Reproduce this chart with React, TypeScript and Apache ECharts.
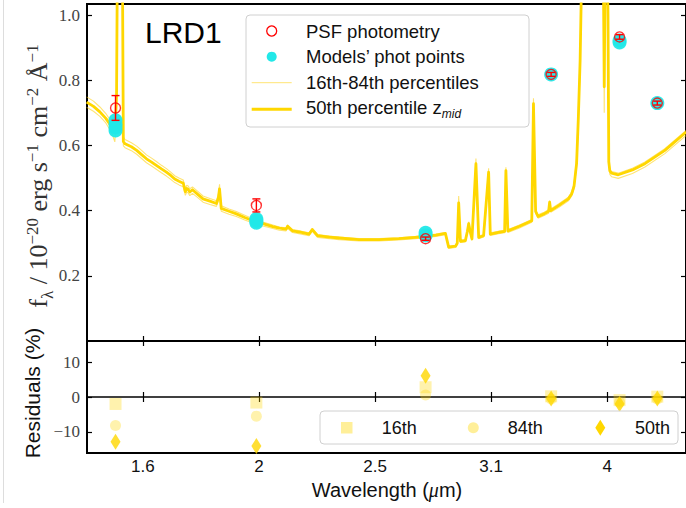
import React, { useEffect, useRef } from 'react';
import * as echarts from 'echarts';

// ---------- data ----------
const lamSpec = [
  1.436, 1.455, 1.473, 1.490, 1.507, 1.516, 1.521, 1.526, 1.531, 1.536,
  1.541, 1.546, 1.565, 1.581, 1.596, 1.611, 1.627, 1.643, 1.658, 1.674,
  1.688, 1.701, 1.715, 1.729, 1.736, 1.741, 1.745, 1.751, 1.760, 1.778,
  1.796, 1.820, 1.843, 1.850, 1.854, 1.860, 1.888, 1.915, 1.946, 1.977,
  2.015, 2.054, 2.080, 2.107, 2.113, 2.133, 2.170, 2.202, 2.216, 2.238,
  2.290, 2.333, 2.424, 2.519, 2.617, 2.702, 2.755, 2.810, 2.862, 2.880,
  2.918, 2.928, 2.936, 2.946, 2.974, 2.985, 2.993, 3.002, 3.012, 3.035,
  3.051, 3.080, 3.110, 3.120, 3.170, 3.207, 3.215, 3.227, 3.300, 3.379,
  3.390, 3.404, 3.420, 3.460, 3.490, 3.497, 3.504, 3.560, 3.625, 3.648,
  3.665, 3.683, 3.695, 3.708, 3.715, 3.740, 3.800, 3.860, 3.878, 3.884,
  3.890, 3.900, 3.912, 3.918, 3.926, 3.939, 3.990, 4.100, 4.200, 4.364,
  4.546,
];
const f50 = [
  0.733, 0.720, 0.703, 0.683, 0.657, 0.642, 0.750, 1.60, 1.90, 1.60,
  0.612, 0.605, 0.596, 0.585, 0.572, 0.559, 0.549, 0.538, 0.528, 0.518,
  0.508, 0.497, 0.490, 0.484, 0.458, 0.468, 0.466, 0.457, 0.464, 0.450,
  0.436, 0.429, 0.422, 0.440, 0.467, 0.407, 0.398, 0.390, 0.379, 0.369,
  0.360, 0.351, 0.346, 0.343, 0.352, 0.338, 0.333, 0.328, 0.342, 0.323,
  0.319, 0.316, 0.311, 0.311, 0.314, 0.318, 0.321, 0.325, 0.330, 0.288,
  0.291, 0.300, 0.424, 0.306, 0.308, 0.335, 0.360, 0.335, 0.313, 0.544,
  0.318, 0.323, 0.518, 0.328, 0.333, 0.336, 0.523, 0.338, 0.352, 0.369,
  0.728, 0.398, 0.382, 0.390, 0.398, 0.426, 0.400, 0.416, 0.436, 0.451,
  0.475, 0.545, 0.680, 0.860, 1.03, 1.50, 1.80, 1.50, 1.10, 0.780,
  1.10, 1.40, 1.00, 0.550, 0.522, 0.515, 0.510, 0.525, 0.544, 0.585,
  0.641,
];
const f84 = [
  0.749, 0.736, 0.718, 0.698, 0.671, 0.656, 0.780, 1.70, 2.00, 1.70,
  0.626, 0.618, 0.608, 0.598, 0.585, 0.571, 0.561, 0.550, 0.539, 0.529,
  0.518, 0.507, 0.500, 0.494, 0.468, 0.478, 0.476, 0.467, 0.473, 0.459,
  0.445, 0.437, 0.430, 0.451, 0.481, 0.415, 0.405, 0.397, 0.386, 0.375,
  0.365, 0.356, 0.350, 0.347, 0.356, 0.342, 0.337, 0.332, 0.346, 0.327,
  0.322, 0.319, 0.314, 0.314, 0.317, 0.321, 0.324, 0.328, 0.333, 0.291,
  0.294, 0.304, 0.445, 0.310, 0.311, 0.339, 0.366, 0.339, 0.317, 0.560,
  0.322, 0.327, 0.530, 0.332, 0.337, 0.340, 0.533, 0.342, 0.356, 0.373,
  0.745, 0.403, 0.387, 0.395, 0.403, 0.431, 0.405, 0.421, 0.441, 0.457,
  0.483, 0.560, 0.700, 0.880, 1.05, 1.55, 1.85, 1.55, 1.15, 0.850,
  1.15, 1.45, 1.05, 0.561, 0.527, 0.520, 0.515, 0.530, 0.549, 0.590,
  0.646,
];
const f16 = [
  0.717, 0.705, 0.689, 0.669, 0.639, 0.611, 0.700, 1.50, 1.80, 1.50,
  0.599, 0.593, 0.584, 0.573, 0.560, 0.547, 0.537, 0.526, 0.516, 0.506,
  0.496, 0.486, 0.479, 0.473, 0.447, 0.457, 0.455, 0.446, 0.453, 0.440,
  0.426, 0.419, 0.413, 0.431, 0.457, 0.398, 0.389, 0.382, 0.371, 0.362,
  0.353, 0.345, 0.340, 0.338, 0.346, 0.333, 0.328, 0.323, 0.337, 0.318,
  0.314, 0.311, 0.307, 0.307, 0.310, 0.314, 0.317, 0.321, 0.326, 0.284,
  0.287, 0.296, 0.410, 0.302, 0.304, 0.330, 0.354, 0.330, 0.309, 0.530,
  0.314, 0.319, 0.505, 0.324, 0.329, 0.332, 0.512, 0.333, 0.347, 0.364,
  0.712, 0.393, 0.377, 0.385, 0.392, 0.420, 0.395, 0.410, 0.430, 0.445,
  0.468, 0.535, 0.660, 0.840, 1.01, 1.45, 1.75, 1.45, 1.05, 0.700,
  1.05, 1.35, 0.950, 0.539, 0.511, 0.504, 0.499, 0.514, 0.534, 0.575,
  0.631,
];

const photLam = [1.518, 1.99, 2.755, 3.507, 4.0, 4.301];
const photF = [0.715, 0.416, 0.314, 0.818, 0.933, 0.730];
const photErr = [0.038, 0.020, 0.005, 0.006, 0.007, 0.006];

const modelLam = [1.518, 1.518, 1.518, 1.518, 1.99, 1.99, 1.99, 2.755, 2.755, 3.507, 4.0, 4.0, 4.301];
const modelF = [0.677, 0.665, 0.655, 0.646, 0.374, 0.368, 0.363, 0.332, 0.324, 0.818, 0.922, 0.916, 0.730];

const resid16 = [-2.0, -1.6, 2.8, 0.2, -0.9, 0.1];
const resid84 = [-8.2, -5.5, 0.6, -0.6, -1.5, -0.6];
const resid50 = [-12.9, -14.1, 6.1, -0.4, -2.0, -0.4];

const xTickValues = [1.6, 2.0, 2.5, 3.125, 3.90625];
const xTickLabels = ['1.6', '2', '2.5', '3.1', '4'];
const yTopTicks = [0.2, 0.4, 0.6, 0.8, 1.0];
const yResTicks = [-10, 0, 10];

const X_MIN = 1.437;
const X_MAX = 4.545;

export default function App() {
  const ref = useRef<HTMLDivElement>(null);
  useEffect(() => {
    if (!ref.current) return;
    const chart = echarts.init(ref.current, null, { renderer: 'svg' });

    const gold = '#FFD700';
    const goldLight = 'rgba(255,215,0,0.4)';
    const goldThin = 'rgba(255,205,0,0.55)';
    const cyan = '#22E8E8';
    const sans = 'Liberation Sans';
    const serif = 'Liberation Serif';

    const spec50 = lamSpec.map((l, i) => [l, f50[i]]);
    const spec84 = lamSpec.map((l, i) => [l, f84[i]]);
    const spec16 = lamSpec.map((l, i) => [l, f16[i]]);
    const models = modelLam.map((l, i) => [l, modelF[i]]);
    const phot = photLam.map((l, i) => [l, photF[i]]);
    const errs = photLam.map((l, i) => [l, photF[i] - photErr[i], photF[i] + photErr[i]]);
    const r16 = photLam.map((l, i) => [l, resid16[i]]);
    const r84 = photLam.map((l, i) => [l, resid84[i]]);
    const r50 = photLam.map((l, i) => [l, resid50[i]]);

    const xFmt = (v: number) => {
      const i = xTickValues.findIndex((t) => Math.abs(t - v) < 1e-4);
      return i >= 0 ? xTickLabels[i] : '';
    };

    const xAxis = (gridIndex: number, position: string, showLabel: boolean) => ({
      type: 'log',
      logBase: 10,
      gridIndex,
      position,
      min: X_MIN,
      max: X_MAX,
      axisLine: { show: false },
      splitLine: { show: false },
      minorTick: { show: false },
      minorSplitLine: { show: false },
      axisTick: {
        show: true,
        inside: true,
        length: 5,
        customValues: xTickValues,
        lineStyle: { color: '#000', width: 1.2 },
      },
      axisLabel: {
        show: showLabel,
        customValues: xTickValues,
        formatter: xFmt,
        fontFamily: sans,
        fontSize: 17,
        color: '#111',
        margin: 5,
      },
    });

    const yAxis = (
      gridIndex: number,
      position: string,
      min: number,
      max: number,
      ticks: number[],
      showLabel: boolean,
      fmt: (v: number) => string
    ) => ({
      type: 'value',
      gridIndex,
      position,
      min,
      max,
      axisLine: { show: false },
      splitLine: { show: false },
      axisTick: {
        show: true,
        inside: true,
        length: 5,
        customValues: ticks,
        lineStyle: { color: '#000', width: 1.2 },
      },
      axisLabel: {
        show: showLabel,
        customValues: ticks,
        formatter: fmt,
        fontFamily: serif,
        fontSize: 17,
        color: '#444',
        margin: 7,
      },
    });

    const topFmt = (v: number) => v.toFixed(1);
    const resFmt = (v: number) => String(v).replace('-', '\u2212');

    const legendRowsY = [31, 56.7, 82.7, 109.3];
    const legendTexts = ['PSF photometry', 'Models\u2019 phot points', '16th-84th percentiles'];

    const option: any = {
      animation: false,
      backgroundColor: '#fff',
      grid: [
        { left: 87, top: 4, width: 600, height: 337, show: true, borderColor: '#000', borderWidth: 2, backgroundColor: 'transparent' },
        { left: 87, top: 341, width: 600, height: 112, show: true, borderColor: '#000', borderWidth: 2, backgroundColor: 'transparent' },
      ],
      xAxis: [
        xAxis(0, 'bottom', false),
        xAxis(0, 'top', false),
        xAxis(1, 'bottom', true),
        xAxis(1, 'top', false),
      ],
      yAxis: [
        yAxis(0, 'left', 0, 1.034, yTopTicks, true, topFmt),
        yAxis(0, 'right', 0, 1.034, yTopTicks, false, topFmt),
        yAxis(1, 'left', -16.1, 16.1, yResTicks, true, resFmt),
        yAxis(1, 'right', -16.1, 16.1, yResTicks, false, resFmt),
      ],
      series: [
        {
          name: '16th percentile',
          type: 'line',
          xAxisIndex: 0,
          yAxisIndex: 0,
          data: spec16,
          showSymbol: false,
          symbol: 'none',
          lineStyle: { color: goldThin, width: 1.1 },
          z: 2,
          clip: true,
        },
        {
          name: '84th percentile',
          type: 'line',
          xAxisIndex: 0,
          yAxisIndex: 0,
          data: spec84,
          showSymbol: false,
          symbol: 'none',
          lineStyle: { color: goldThin, width: 1.1 },
          z: 2,
          clip: true,
        },
        {
          name: '50th percentile',
          type: 'line',
          xAxisIndex: 0,
          yAxisIndex: 0,
          data: spec50,
          showSymbol: false,
          symbol: 'none',
          lineStyle: { color: gold, width: 2.8, join: 'round' },
          z: 3,
          clip: true,
        },
        {
          name: "Models' phot points",
          type: 'scatter',
          xAxisIndex: 0,
          yAxisIndex: 0,
          data: models,
          symbol: 'circle',
          symbolSize: 14,
          itemStyle: { color: cyan, opacity: 0.95 },
          z: 4,
        },
        {
          name: 'errors',
          type: 'custom',
          xAxisIndex: 0,
          yAxisIndex: 0,
          data: errs,
          z: 5,
          renderItem: (params: any, api: any) => {
            const x = api.value(0);
            const lo = api.coord([x, api.value(1)]);
            const hi = api.coord([x, api.value(2)]);
            const cap = 4;
            const st = { stroke: '#FF0000', lineWidth: 1.4, fill: 'none' };
            return {
              type: 'group',
              children: [
                { type: 'line', shape: { x1: lo[0], y1: lo[1], x2: hi[0], y2: hi[1] }, style: st },
                { type: 'line', shape: { x1: lo[0] - cap, y1: lo[1], x2: lo[0] + cap, y2: lo[1] }, style: st },
                { type: 'line', shape: { x1: hi[0] - cap, y1: hi[1], x2: hi[0] + cap, y2: hi[1] }, style: st },
              ],
            };
          },
        },
        {
          name: 'PSF photometry',
          type: 'scatter',
          xAxisIndex: 0,
          yAxisIndex: 0,
          data: phot,
          symbol: 'circle',
          symbolSize: 10,
          itemStyle: { color: 'rgba(0,0,0,0)', borderColor: '#FF0000', borderWidth: 1.4 },
          z: 6,
        },
        {
          name: '16th',
          type: 'scatter',
          xAxisIndex: 2,
          yAxisIndex: 2,
          data: r16,
          symbol: 'rect',
          symbolSize: 12,
          itemStyle: { color: goldLight },
          z: 3,
          markLine: {
            silent: true,
            symbol: ['none', 'none'],
            label: { show: false },
            lineStyle: { color: '#000', width: 1.6, type: 'solid' },
            data: [{ yAxis: 0 }],
            z: 1,
          },
        },
        {
          name: '84th',
          type: 'scatter',
          xAxisIndex: 2,
          yAxisIndex: 2,
          data: r84,
          symbol: 'circle',
          symbolSize: 11,
          itemStyle: { color: goldLight },
          z: 3,
        },
        {
          name: '50th',
          type: 'scatter',
          xAxisIndex: 2,
          yAxisIndex: 2,
          data: r50,
          symbol: 'diamond',
          symbolSize: [10, 16],
          itemStyle: { color: gold },
          z: 4,
        },
      ],
      graphic: {
        elements: [
          { type: 'line', shape: { x1: 3.5, y1: 0, x2: 3.5, y2: 503 }, style: { stroke: '#dddddd', lineWidth: 1 }, silent: true },
          {
            type: 'text',
            x: 145,
            y: 32,
            style: { text: 'LRD1', fontFamily: sans, fontSize: 30, fill: '#000', align: 'left', verticalAlign: 'middle' },
          },
          // top legend
          {
            type: 'rect',
            shape: { x: 246, y: 15, width: 283, height: 112, r: 4 },
            style: { fill: 'rgba(255,255,255,0.8)', stroke: '#d0d0d0', lineWidth: 1 },
            z: 100,
          },
          { type: 'circle', shape: { cx: 271.7, cy: legendRowsY[0], r: 5 }, style: { fill: 'none', stroke: '#FF0000', lineWidth: 1.3 }, z: 101 },
          { type: 'circle', shape: { cx: 271.7, cy: legendRowsY[1], r: 5 }, style: { fill: cyan }, z: 101 },
          { type: 'line', shape: { x1: 251.7, y1: legendRowsY[2], x2: 291.7, y2: legendRowsY[2] }, style: { stroke: goldThin, lineWidth: 1 }, z: 101 },
          { type: 'line', shape: { x1: 251.7, y1: legendRowsY[3], x2: 291.7, y2: legendRowsY[3] }, style: { stroke: gold, lineWidth: 3 }, z: 101 },
          ...legendTexts.map((t, i) => ({
            type: 'text',
            x: 306,
            y: legendRowsY[i],
            z: 101,
            style: { text: t, fontFamily: sans, fontSize: 18.5, fill: '#111', align: 'left', verticalAlign: 'middle' },
          })),
          {
            type: 'text',
            x: 306,
            y: legendRowsY[3],
            z: 101,
            style: {
              text: '{n|50th percentile z}{s|mid}',
              align: 'left',
              verticalAlign: 'middle',
              rich: {
                n: { fontFamily: sans, fontSize: 18.5, fill: '#111', verticalAlign: 'bottom', padding: [0, 0, 3, 0] },
                s: { fontFamily: sans, fontSize: 12, fontStyle: 'italic', fill: '#111', verticalAlign: 'bottom' },
              },
            },
          },
          // residual legend
          {
            type: 'rect',
            shape: { x: 320, y: 411, width: 358, height: 33, r: 4 },
            style: { fill: 'rgba(255,255,255,0.8)', stroke: '#d0d0d0', lineWidth: 1 },
            z: 100,
          },
          { type: 'rect', shape: { x: 341, y: 422, width: 11.5, height: 11.5 }, style: { fill: goldLight }, z: 101 },
          { type: 'circle', shape: { cx: 473.3, cy: 427.7, r: 5.5 }, style: { fill: goldLight }, z: 101 },
          {
            type: 'polygon',
            shape: { points: [[600.3, 419.7], [605.3, 427.7], [600.3, 435.7], [595.3, 427.7]] },
            style: { fill: gold },
            z: 101,
          },
          ...['16th', '84th', '50th'].map((t, i) => ({
            type: 'text',
            x: [381.7, 507.7, 635][i],
            y: 427.7,
            z: 101,
            style: { text: t, fontFamily: sans, fontSize: 18, fill: '#111', align: 'left', verticalAlign: 'middle' },
          })),
          // axis titles
          {
            type: 'text',
            x: 40,
            y: 176,
            rotation: Math.PI / 2,
            style: {
              text: '{m|f}{sub|\u03bb}{m| / 10}{sup|\u221220}{m| erg s}{sup|\u22121}{m| cm}{sup|\u22122}{m| \u00c5}{sup|\u22121}',
              align: 'center',
              verticalAlign: 'middle',
              rich: {
                m: { fontFamily: serif, fontSize: 26, fill: '#333', verticalAlign: 'bottom', padding: [0, 0, 5, 0] },
                sub: { fontFamily: serif, fontSize: 17, fill: '#333', verticalAlign: 'bottom' },
                sup: { fontFamily: serif, fontSize: 17, fill: '#333', verticalAlign: 'bottom', padding: [0, 0, 15, 0] },
              },
            },
          },
          {
            type: 'text',
            x: 32,
            y: 393,
            rotation: Math.PI / 2,
            style: { text: 'Residuals (%)', fontFamily: sans, fontSize: 21, fill: '#111', align: 'center', verticalAlign: 'middle' },
          },
          {
            type: 'text',
            x: 387,
            y: 490,
            style: {
              text: '{a|Wavelength (}{u|\u03bc}{a|m)}',
              align: 'center',
              verticalAlign: 'middle',
              rich: {
                a: { fontFamily: sans, fontSize: 20, fill: '#111' },
                u: { fontFamily: serif, fontSize: 20, fontStyle: 'italic', fill: '#111' },
              },
            },
          },
        ],
      },
    };

    chart.setOption(option);
    return () => chart.dispose();
  }, []);

  return (
    <div
      ref={ref}
      style={{ position: 'fixed', left: 0, top: 0, width: 686, height: 508, background: '#fff' }}
    />
  );
}
